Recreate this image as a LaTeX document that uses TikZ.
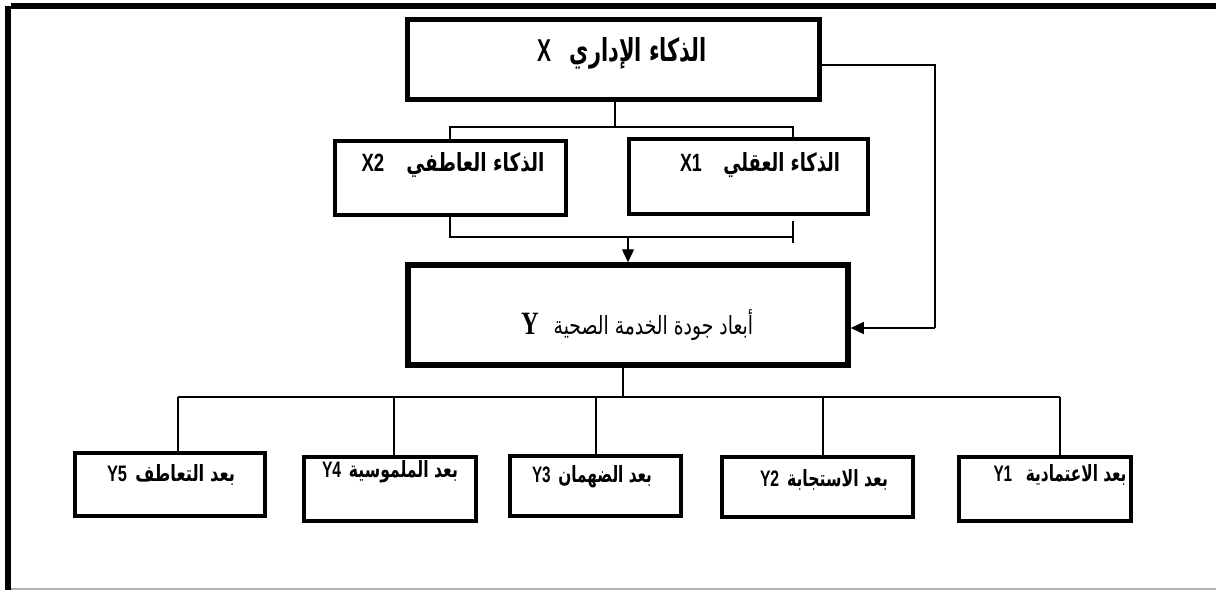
\documentclass[tikz,border=0pt]{standalone}
\usepackage{fontspec}
\usepackage{graphicx}
\usetikzlibrary{arrows.meta}
\TeXXeTstate=1
\newfontfamily\arb[Script=Arabic]{DejaVu Sans}
\newfontfamily\lat{Liberation Sans}
\newfontfamily\latserif{Liberation Serif}
\newcommand\arx[1]{{\arb\beginR #1\endR}}
\newsavebox\fitbox
\newcommand\fitwh[3]{\sbox\fitbox{#3}%
  \pgfmathsetmacro\fitrx{#1/\the\wd\fitbox}%
  \pgfmathsetmacro\fitry{#2/\the\ht\fitbox}%
  \scalebox{\fitrx}[\fitry]{\usebox\fitbox}}
\tikzset{
  boxa/.style={draw, line width=5pt, inner sep=0pt},
  boxb/.style={draw, line width=4pt, inner sep=0pt},
  lbl/.style={inner sep=0pt, anchor=center},
  conn/.style={line width=1.4pt},
  arr/.style={line width=1.4pt, -{Triangle[length=13pt,width=12pt]}}
}
\begin{document}
\begin{tikzpicture}[x=1pt,y=-1pt]
\useasboundingbox (0,0) rectangle (1216,590);
% frame
\fill[black] (11,3) rectangle (1216,9);
\fill[black] (5,6) rectangle (11,590);
\draw[gray!60, line width=1.5pt] (11,589) -- (1216,589);

% boxes
\node[boxa, minimum width=412pt, minimum height=80pt] (X) at (613.5,59) {};
\node[boxb, minimum width=231pt, minimum height=74pt] (X2) at (450.5,178) {};
\node[boxb, minimum width=239pt, minimum height=75pt] (X1) at (748.5,176.5) {};
\node[boxa, line width=5.5pt, minimum width=440pt, minimum height=100pt] (Y) at (628,315) {};
\node[boxb, minimum width=190pt, minimum height=63pt] (Y5) at (170,484) {};
\node[boxb, minimum width=172pt, minimum height=64pt] (Y4) at (390,489) {};
\node[boxb, minimum width=171pt, minimum height=60pt] (Y3) at (595.5,486) {};
\node[boxb, minimum width=191pt, minimum height=60pt] (Y2) at (817.5,487) {};
\node[boxb, minimum width=172pt, minimum height=64pt] (Y1) at (1045,489) {};

% labels
\node[lbl] (tX) at (622,53) {\fitwh{170}{24}{\bfseries\lat X\hspace{9pt}\arx{الذكاء الإداري}}};
\node[lbl] (tX2) at (453,165) {\fitwh{183}{19}{\bfseries\lat X2\hspace{12pt}\arx{الذكاء العاطفي}}};
\node[lbl] (tX1) at (760,165) {\fitwh{160}{19}{\bfseries\lat X1\hspace{12pt}\arx{الذكاء العقلي}}};
\node[lbl] (tY) at (637,325) {\fitwh{232}{25}{{\latserif\bfseries\fontsize{13}{15}\selectfont Y}\hspace{8pt}\arx{أبعاد جودة الخدمة الصحية}}};
\node[lbl] (tY5) at (171,475) {\fitwh{128}{17}{\bfseries\lat Y5\hspace{5pt}\arx{بعد التعاطف}}};
\node[lbl] (tY4) at (390,472) {\fitwh{136}{17}{\bfseries\lat Y4\hspace{5pt}\arx{بعد الملموسية}}};
\node[lbl] (tY3) at (592,477) {\fitwh{120}{17}{\bfseries\lat Y3\hspace{5pt}\arx{بعد الضهمان}}};
\node[lbl] (tY2) at (824,480) {\fitwh{128}{17}{\bfseries\lat Y2\hspace{5pt}\arx{بعد الاستجابة}}};
\node[lbl] (tY1) at (1060,475) {\fitwh{133}{17}{\bfseries\lat Y1\hspace{9pt}\arx{بعد الاعتمادية}}};

% coordinates
\coordinate (xr) at (935,65);
\coordinate (xb) at (615,127);
\coordinate (b1l) at (450,127);
\coordinate (b1r) at (793,127);
\coordinate (b2l) at (450,237);
\coordinate (b2r) at (793,237);
\coordinate (b2m) at (628,237);
\coordinate (tk1) at (793,221);
\coordinate (tk2) at (793,243);
\coordinate (yr) at (935,328);
\coordinate (yb) at (623,397);
\coordinate (c5) at (178,397);
\coordinate (c4) at (394,397);
\coordinate (c3) at (596,397);
\coordinate (c2) at (823,397);
\coordinate (c1) at (1060,397);

% X to Y feedback
\draw[conn] (X.east |- xr) -- (xr) -- (yr);
\draw[arr] (yr) -- (Y.east |- yr);
% X to X1,X2
\draw[conn] (X.south -| xb) -- (xb);
\draw[conn] (X2.north -| b1l) -- (b1l) -- (b1r) -- (X1.north -| b1r);
% X1,X2 to Y
\draw[conn] (X2.south -| b2l) -- (b2l) -- (b2r);
\draw[conn] (tk1) -- (tk2);
\draw[arr] (b2m) -- (Y.north -| b2m);
% Y to dimensions
\draw[conn] (Y.south -| yb) -- (yb);
\draw[conn] (c5) -- (c1);
\draw[conn] (c5) -- (Y5.north -| c5);
\draw[conn] (c4) -- (Y4.north -| c4);
\draw[conn] (c3) -- (Y3.north -| c3);
\draw[conn] (c2) -- (Y2.north -| c2);
\draw[conn] (c1) -- (Y1.north -| c1);
\end{tikzpicture}
\end{document}
